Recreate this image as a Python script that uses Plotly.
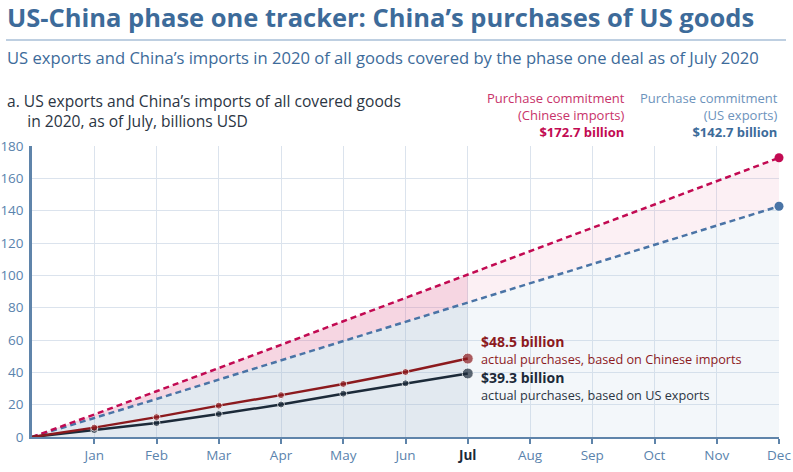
import plotly.graph_objects as go

# -------------------- Data (billions USD, cumulative 2020) --------------------
months = ["", "Jan", "Feb", "Mar", "Apr", "May", "Jun", "Jul", "Aug", "Sep", "Oct", "Nov", "Dec"]
x_idx = list(range(len(months)))

commit_cn = [0, 13.9, 28.3, 42.5, 57.0, 71.6, 86.0, 100.5, 114.9, 129.3, 143.8, 158.2, 172.7]
commit_us = [0, 11.6, 23.5, 35.5, 47.4, 59.3, 71.2, 83.2, 95.1, 107.0, 118.9, 130.8, 142.7]

actual_months = x_idx[:8]
actual_cn = [0, 5.8, 12.3, 19.4, 25.9, 32.8, 40.2, 48.5]
actual_us = [0, 4.3, 8.6, 14.2, 20.1, 26.8, 33.2, 39.3]

# -------------------- Colours --------------------
BLUE_TITLE = "#3d6b9a"
CRIMSON = "#c20a52"
BLUE_DASH = "#4a74a6"
DARK_RED = "#8c1a1e"
NAVY = "#1c2a39"
TICK = "#5a83ad"
GRID = "#dbe3ed"
AXIS = "#5f84aa"
FONT = "Open Sans"

W, H = 793, 472
L, R, T, B = 32, 14, 146, 35
PW, PH = W - L - R, H - T - B


def px(x):
    return (x - L) / PW


def py(y):
    return (H - B - y) / PH


fig = go.Figure()

# fills: before July (stronger) and after July (lighter)
fig.add_trace(go.Scatter(x=x_idx[:8], y=commit_us[:8], mode="lines", line=dict(width=0),
                         fill="tozeroy", fillcolor="rgba(160,182,206,0.30)", hoverinfo="skip", showlegend=False))
fig.add_trace(go.Scatter(x=x_idx[:8], y=commit_cn[:8], mode="lines", line=dict(width=0),
                         fill="tonexty", fillcolor="rgba(226,120,160,0.30)", hoverinfo="skip", showlegend=False))
fig.add_trace(go.Scatter(x=x_idx[7:], y=commit_us[7:], mode="lines", line=dict(width=0),
                         fill="tozeroy", fillcolor="rgba(190,208,228,0.18)", hoverinfo="skip", showlegend=False))
fig.add_trace(go.Scatter(x=x_idx[7:], y=commit_cn[7:], mode="lines", line=dict(width=0),
                         fill="tonexty", fillcolor="rgba(236,170,196,0.18)", hoverinfo="skip", showlegend=False))

# commitment lines
fig.add_trace(go.Scatter(x=x_idx, y=commit_us, mode="lines", line=dict(color=BLUE_DASH, width=2.5, dash="6px,4px"),
                         showlegend=False))
fig.add_trace(go.Scatter(x=x_idx, y=commit_cn, mode="lines", line=dict(color=CRIMSON, width=2.5, dash="6px,4px"),
                         showlegend=False))
fig.add_trace(go.Scatter(x=[x_idx[-1]], y=[commit_us[-1]], mode="markers", marker=dict(color=BLUE_DASH, size=9),
                         cliponaxis=False, showlegend=False))
fig.add_trace(go.Scatter(x=[x_idx[-1]], y=[commit_cn[-1]], mode="markers", marker=dict(color=CRIMSON, size=9),
                         cliponaxis=False, showlegend=False))

# actual purchases
sizes = [0, 7, 7, 7, 7, 7, 7, 11]
fig.add_trace(go.Scatter(x=actual_months, y=actual_us, mode="lines+markers", line=dict(color=NAVY, width=2.5),
                         marker=dict(size=sizes, color=NAVY), cliponaxis=False, showlegend=False))
fig.add_trace(go.Scatter(x=actual_months, y=actual_cn, mode="lines+markers", line=dict(color=DARK_RED, width=2.5),
                         marker=dict(size=sizes, color=DARK_RED), cliponaxis=False, showlegend=False))

ticktext = [m if m != "Jul" else "<b><span style='color:#1c2a39'>Jul</span></b>" for m in months[1:]]

fig.update_xaxes(range=[0, 12], tickvals=x_idx[1:], ticktext=ticktext, showgrid=True, gridcolor=GRID, gridwidth=1,
                 showline=True, linecolor=AXIS, linewidth=2, ticks="outside", ticklen=5, tickwidth=2,
                 tickcolor=AXIS, tickfont=dict(family=FONT, size=13.5, color=TICK), zeroline=False,
                 automargin=False)
fig.update_yaxes(range=[0, 180], dtick=20, showgrid=True, gridcolor=GRID, gridwidth=1,
                 showline=True, linecolor=AXIS, linewidth=2.5, ticks="", zeroline=False,
                 tickfont=dict(family=FONT, size=13.5, color=TICK), ticklabelstandoff=3, automargin=False)


def note(text, x, y, size, color, xanchor="left", align="left"):
    fig.add_annotation(text=text, x=px(x), y=py(y), xref="paper", yref="paper", showarrow=False,
                       xanchor=xanchor, yanchor="middle", align=align, borderpad=0,
                       font=dict(family=FONT, size=size, color=color))


note("<b>US-China phase one tracker: China’s purchases of US goods</b>", 6, 17, 25.5, BLUE_TITLE)
note("US exports and China’s imports in 2020 of all goods covered by the phase one deal as of July 2020",
     6, 58, 16.6, BLUE_TITLE)
note("a. US exports and China’s imports of all covered goods<br>"
     "&nbsp;&nbsp;&nbsp;&nbsp;&nbsp;in 2020, as of July, billions USD", 6, 111, 15.6, "#2b3543")

note("Purchase commitment<br>(Chinese imports)<br><b><span style='color:#c20a52'>$172.7 billion</span></b>",
     626, 115, 13, "#c8336a", xanchor="right", align="right")
note("Purchase commitment<br>(US exports)<br><b><span style='color:#3d6b9a'>$142.7 billion</span></b>",
     779, 115, 13, "#6d93bc", xanchor="right", align="right")

note("<b><span style='font-size:14px'>$48.5 billion</span></b><br>actual purchases, based on Chinese imports",
     480, 350, 12.7, DARK_RED)
note("<b><span style='font-size:14px;color:#1c2a39'>$39.3 billion</span></b><br>actual purchases, based on US exports",
     480, 386, 12.7, "#2b3543")

fig.add_shape(type="line", xref="paper", yref="paper", x0=px(6), x1=px(786), y0=py(40), y1=py(40),
              line=dict(color="#a8bfd7", width=1.5))

fig.update_layout(width=W, height=H, margin=dict(l=L, r=R, t=T, b=B), plot_bgcolor="white",
                  paper_bgcolor="white", font=dict(family=FONT), hovermode=False)

# drop the page's default body margin so the figure sits in the window corner
fig.write_html("out.html", config={"displayModeBar": False},
               post_script="document.body.style.margin = '0';")
